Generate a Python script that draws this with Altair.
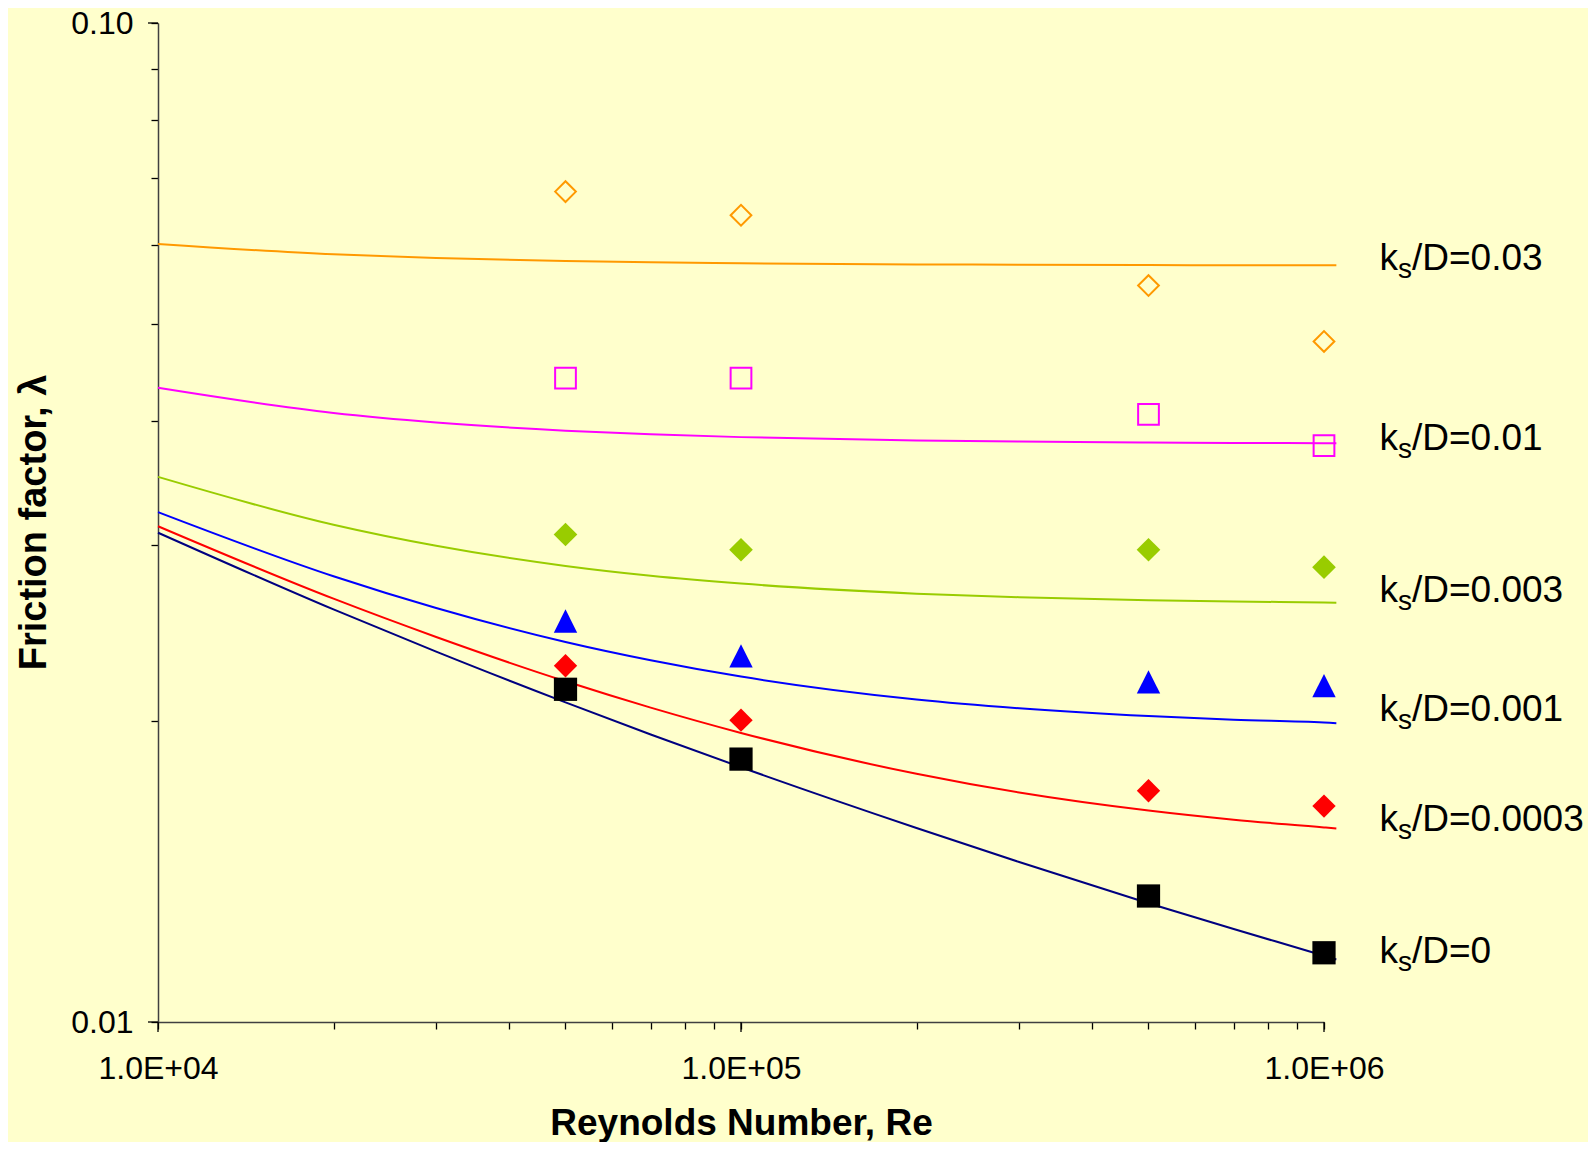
import altair as alt
import pandas as pd

FONT = "Liberation Sans, Arial, sans-serif"

# ---- data ----
series_keys = ["0.03", "0.01", "0.003", "0.001", "0.0003", "0"]
series_colors = ["#FF9900", "#FF00FF", "#99CC00", "#0000FF", "#FF0000", "#000080"]

re_line = [1e4, 2e4, 3e4, 5e4, 7e4, 1e5, 2e5, 3e5, 5e5, 7e5, 1e6, 1.05e6]
lam_line_003 = [0.0601, 0.05867, 0.05818, 0.05778, 0.05761, 0.05748, 0.05733, 0.05728, 0.05724, 0.05722, 0.05721, 0.05721]
lam_line_001 = [0.04313, 0.0407, 0.03982, 0.03908, 0.03875, 0.0385, 0.03821, 0.03811, 0.03803, 0.03799, 0.03797, 0.03797]
lam_line_0003 = [0.03513, 0.03146, 0.02997, 0.02861, 0.02797, 0.02747, 0.02684, 0.02662, 0.02644, 0.02636, 0.0263, 0.02629]
lam_line_0001 = [0.03239, 0.02794, 0.02597, 0.02401, 0.02302, 0.02217, 0.02103, 0.02061, 0.02024, 0.02007, 0.01994, 0.01991]
lam_line_00003 = [0.03135, 0.02653, 0.02429, 0.02193, 0.02064, 0.01947, 0.01772, 0.01697, 0.01628, 0.01594, 0.01566, 0.01562]
lam_line_0 = [0.03089, 0.02588, 0.02348, 0.02089, 0.0194, 0.01799, 0.01564, 0.01446, 0.01315, 0.01239, 0.01165, 0.01155]

re_points = [5e4, 1e5, 5e5, 1e6]
lam_pts_003 = [0.0678, 0.0642, 0.0546, 0.0480]
lam_pts_001 = [0.04412, 0.04412, 0.04057, 0.03776]
lam_pts_0003 = [0.03076, 0.02970, 0.02970, 0.02853]
lam_pts_0001 = [0.02520, 0.02325, 0.02190, 0.02171]
lam_pts_00003 = [0.02273, 0.02005, 0.01704, 0.01645]
lam_pts_0 = [0.02153, 0.01833, 0.01337, 0.01173]

label_re = 1.245e6
label_lam = [0.05655, 0.03736, 0.02634, 0.02002, 0.01553, 0.011455]
label_rest = ["/D=0.03", "/D=0.01", "/D=0.003", "/D=0.001", "/D=0.0003", "/D=0"]

x_tick_values = [10000, 20000, 30000, 40000, 50000, 60000, 70000, 80000, 90000,
                 100000, 200000, 300000, 400000, 500000, 600000, 700000, 800000, 900000,
                 1000000]
x_major = [10000, 100000, 1000000]
x_major_labels = ["1.0E+04", "1.0E+05", "1.0E+06"]
y_tick_values = [0.01, 0.02, 0.03, 0.04, 0.05, 0.06, 0.07, 0.08, 0.09, 0.1]
y_major = [0.01, 0.1]
y_major_labels = ["0.01", "0.10"]

# ---- tables ----
line_sets = [lam_line_003, lam_line_001, lam_line_0003, lam_line_0001, lam_line_00003, lam_line_0]
pt_sets = [lam_pts_003, lam_pts_001, lam_pts_0003, lam_pts_0001, lam_pts_00003, lam_pts_0]

line_rows = []
for key, vals in zip(series_keys, line_sets):
    for r, v in zip(re_line, vals):
        line_rows.append({"Re": r, "lam": v, "series": key})
line_df = pd.DataFrame(line_rows)

pt_dfs = [pd.DataFrame({"Re": re_points, "lam": vals}) for vals in pt_sets]

label_df = pd.DataFrame({"Re": [label_re] * len(label_lam), "lam": label_lam, "rest": label_rest})

W, H = 1166, 999


def make_expr(values, labels):
    parts = [f"datum.value == {v} ? '{l}'" for v, l in zip(values, labels)]
    return " : ".join(parts) + " : ''"


x_scale = alt.Scale(type="log", domain=[10000, 1000000], nice=False)
y_scale = alt.Scale(type="log", domain=[0.01, 0.1], nice=False)

x_axis = alt.Axis(
    values=x_tick_values, labelExpr=make_expr(x_major, x_major_labels),
    grid=False, tickSize=7, tickColor="#000000", tickWidth=1.3,
    domainColor="#404040", domainWidth=1.5,
    labelFont=FONT, labelFontSize=32, labelColor="#000000", labelPadding=24,
    labelOverlap=False, labelFlush=False, labelBound=False,
    titleFont=FONT, titleFontSize=37, titleFontWeight="bold", titleColor="#000000",
    titleBaseline="alphabetic", titleAlign="center", titleX=W / 2, titleY=112,
)
y_axis = alt.Axis(
    values=y_tick_values, labelExpr=make_expr(y_major, y_major_labels),
    grid=False, tickSize=7, tickColor="#000000", tickWidth=1.3,
    domainColor="#404040", domainWidth=1.5,
    labelFont=FONT, labelFontSize=32, labelColor="#000000", labelPadding=18,
    labelOverlap=False, labelFlush=False, labelBound=False,
    titleFont=FONT, titleFontSize=38, titleFontWeight="bold", titleColor="#000000",
    titleBaseline="alphabetic", titleAlign="center", titleAngle=270,
    titleX=-113, titleY=499,
)

X = alt.X("Re:Q", scale=x_scale, axis=x_axis, title="Reynolds Number, Re")
Y = alt.Y("lam:Q", scale=y_scale, axis=y_axis, title="Friction factor, λ")

lines = alt.Chart(line_df).mark_line(strokeWidth=2, interpolate="monotone").encode(
    x=X, y=Y,
    color=alt.Color("series:N", scale=alt.Scale(domain=series_keys, range=series_colors), legend=None),
    detail="series:N",
)

tri = "M0,-1L1,1L-1,1Z"
marker_styles = [
    dict(shape="diamond", filled=False, stroke="#FF9900", strokeWidth=2, size=430),
    dict(shape="square", filled=False, stroke="#FF00FF", strokeWidth=2, size=430),
    dict(shape="diamond", filled=True, fill="#99CC00", strokeWidth=0, size=560),
    dict(shape=tri, filled=True, fill="#0000FF", strokeWidth=0, size=545),
    dict(shape="diamond", filled=True, fill="#FF0000", strokeWidth=0, size=545),
    dict(shape="square", filled=True, fill="#000000", strokeWidth=0, size=540),
]
marker_layers = [
    alt.Chart(df).mark_point(opacity=1, **st).encode(x=X, y=Y)
    for df, st in zip(pt_dfs, marker_styles)
]

major_x_ticks = alt.Chart(pd.DataFrame({"Re": x_major})).mark_rule(
    color="#000000", strokeWidth=1.3
).encode(x=X, y=alt.value(H), y2=alt.value(H + 10))

major_y_ticks = alt.Chart(pd.DataFrame({"lam": y_major})).mark_rule(
    color="#000000", strokeWidth=1.3
).encode(y=Y, x=alt.value(0), x2=alt.value(-10))

txt_k = alt.Chart(label_df).mark_text(
    text="k", align="left", baseline="alphabetic", font=FONT, fontSize=37, color="#000000"
).encode(x=X, y=Y)
txt_s = alt.Chart(label_df).mark_text(
    text="s", align="left", baseline="alphabetic", font=FONT, fontSize=28, color="#000000",
    dx=18.5, dy=8
).encode(x=X, y=Y)
txt_rest = alt.Chart(label_df).mark_text(
    align="left", baseline="alphabetic", font=FONT, fontSize=37, color="#000000", dx=32.5
).encode(x=X, y=Y, text="rest:N")

chart = alt.layer(
    lines, *marker_layers, major_x_ticks, major_y_ticks, txt_k, txt_s, txt_rest
).properties(
    width=W, height=H,
    padding={"left": 150, "top": 15, "right": 264, "bottom": 120},
    autosize=alt.AutoSizeParams(type="none"),
    background="#FFFFCC",
).configure_view(stroke=None)

chart.save("out.html", embed_options={"renderer": "svg", "actions": False})
